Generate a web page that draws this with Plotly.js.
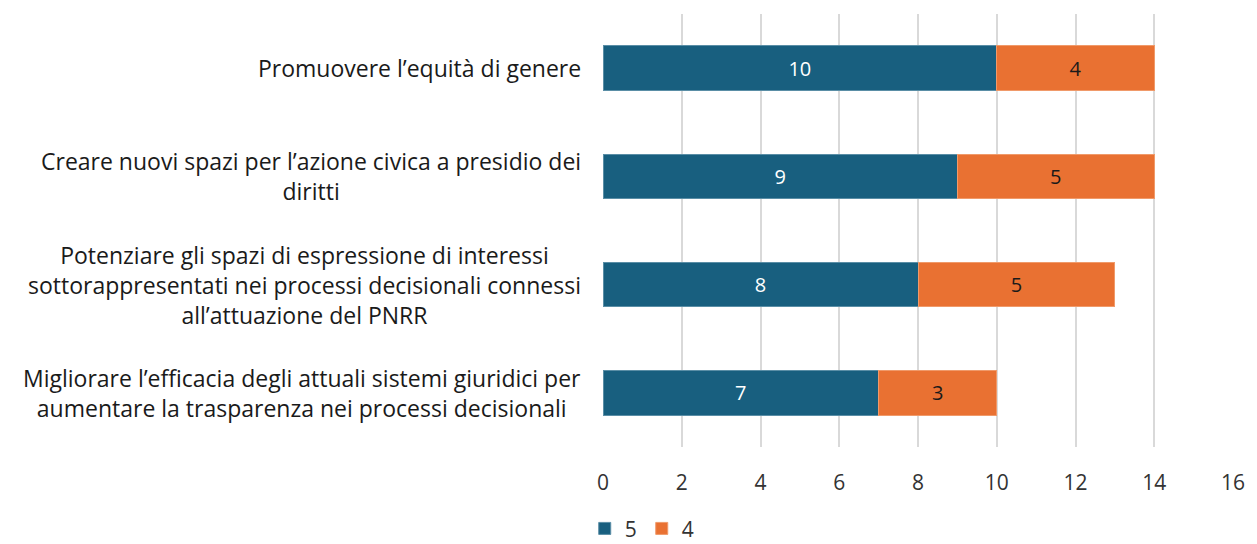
<!DOCTYPE html>
<html>
<head>
<meta charset="utf-8">
<script src="https://cdn.plot.ly/plotly-3.0.1.min.js"></script>
<style>
  html, body { margin: 0; padding: 0; background: #fff; }
  #chart { width: 1257px; height: 544px; }
</style>
</head>
<body>
<div id="chart"></div>
<script>
// categories, top to bottom
var categories = [
  "Promuovere l\u2019equità di genere",
  "Creare nuovi spazi per l\u2019azione civica a presidio dei<br>diritti",
  "Potenziare gli spazi di espressione di interessi<br>sottorappresentati nei processi decisionali connessi<br>all\u2019attuazione del PNRR",
  "Migliorare l\u2019efficacia degli attuali sistemi giuridici per<br>aumentare la trasparenza nei processi decisionali"
];
var catKeys = ["c1", "c2", "c3", "c4"];
var score5 = [10, 9, 8, 7];
var score4 = [4, 5, 5, 3];
var xTicks = [0, 2, 4, 6, 8, 10, 12, 14, 16];

var fontFam = "'Open Sans', sans-serif";

var trace5 = {
  type: "bar",
  orientation: "h",
  name: "5",
  y: catKeys,
  x: score5,
  text: score5.map(String),
  textposition: "inside",
  insidetextanchor: "middle",
  textfont: { color: "#ffffff", size: 20, family: fontFam },
  marker: { color: "#185f7f", line: { color: "#5a8ea6", width: 1 } },
  hoverinfo: "x+name"
};
var trace4 = {
  type: "bar",
  orientation: "h",
  name: "4",
  y: catKeys,
  x: score4,
  text: score4.map(String),
  textposition: "inside",
  insidetextanchor: "middle",
  textfont: { color: "#1a1a1a", size: 20, family: fontFam },
  marker: { color: "#e97132", line: { color: "#f09a6a", width: 1 } },
  hoverinfo: "x+name"
};

// category labels as centred annotations (tick labels would be right aligned)
var labels = catKeys.map(function (k, i) {
  return {
    xref: "paper", yref: "y",
    x: -0.032, y: k,
    xanchor: "right", yanchor: "middle",
    text: categories[i],
    align: "center",
    showarrow: false,
    font: { size: 23, color: "#1a1a1a", family: fontFam }
  };
});

var layout = {
  width: 1257,
  height: 544,
  margin: { l: 603, r: 24, t: 14, b: 97 },
  barmode: "stack",
  bargap: 0.59,
  paper_bgcolor: "#ffffff",
  plot_bgcolor: "#ffffff",
  font: { family: fontFam, size: 20, color: "#404040" },
  xaxis: {
    range: [0, 16],
    tickvals: xTicks,
    ticktext: xTicks.map(String),
    showgrid: true,
    gridcolor: "#d9d9d9",
    gridwidth: 2,
    zeroline: false,
    showline: false,
    ticks: "outside",
    ticklen: 17,
    tickcolor: "rgba(0,0,0,0)",
    tickfont: { size: 21, color: "#333333" },
    fixedrange: true
  },
  yaxis: {
    type: "category",
    categoryorder: "array",
    categoryarray: catKeys.slice().reverse(),
    showticklabels: false,
    showgrid: false,
    zeroline: false,
    showline: false,
    fixedrange: true
  },
  annotations: labels,
  showlegend: true,
  legend: {
    orientation: "h",
    xref: "paper", x: -0.029, xanchor: "left",
    yref: "container", y: 0.028, yanchor: "middle",
    traceorder: "normal",
    font: { size: 21, color: "#333333" },
    itemwidth: 30
  }
};

Plotly.newPlot("chart", [trace5, trace4], layout, { displayModeBar: false, staticPlot: true });
</script>
</body>
</html>
